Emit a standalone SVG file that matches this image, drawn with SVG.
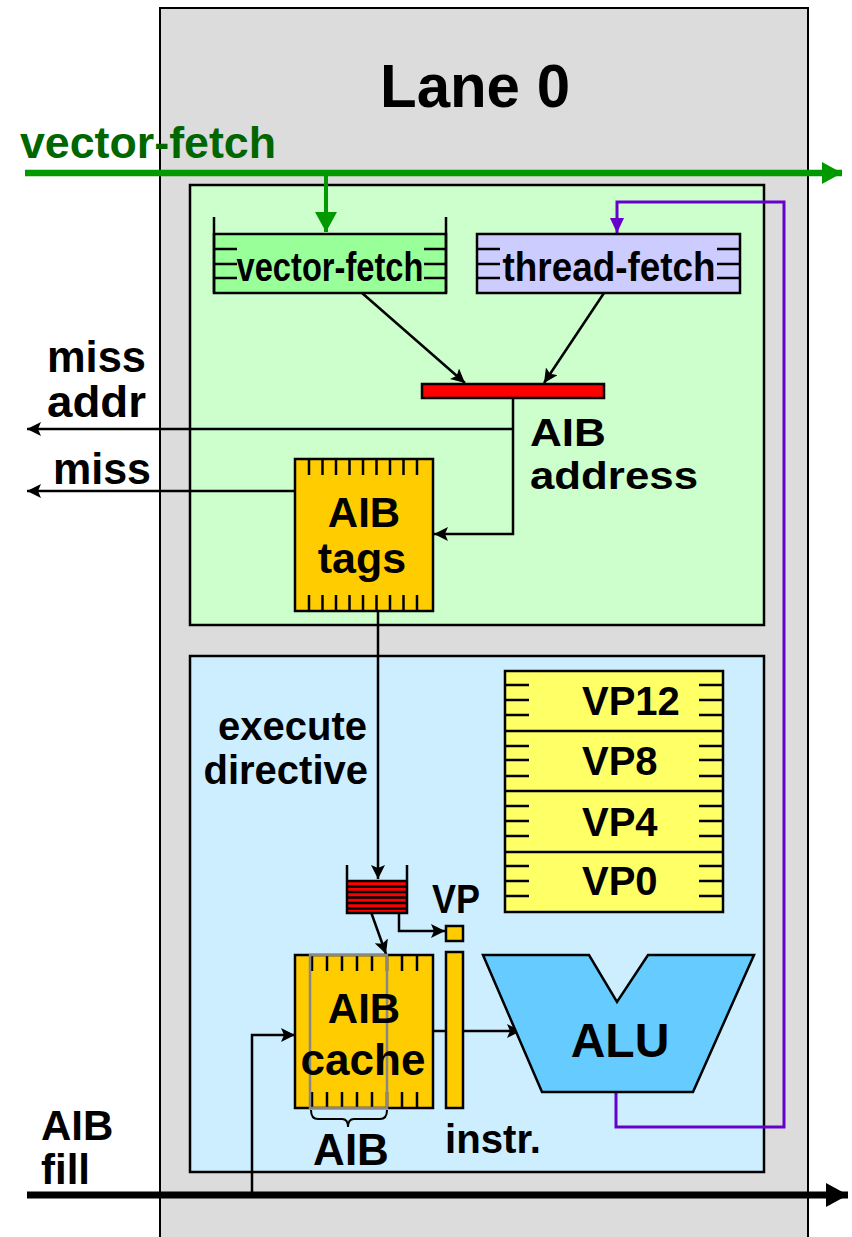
<svg xmlns="http://www.w3.org/2000/svg" width="852" height="1237" viewBox="0 0 852 1237">
  <style>
    text { font-family: "Liberation Sans", Arial, sans-serif; font-weight: bold; fill: #000; }
    .box { stroke: #000; stroke-width: 2.5; }
    .tick { stroke: #000; stroke-width: 2.5; fill: none; }
    .wire { stroke: #000; stroke-width: 2.5; fill: none; }
    .purple { stroke: #6600cc; stroke-width: 3; fill: none; }
    .green { stroke: #009900; fill: none; }
    .yellow { fill: #ffcc00; }
  </style>
  <defs>
    <marker id="ah" markerUnits="userSpaceOnUse" markerWidth="16" markerHeight="14" refX="14" refY="7" orient="auto">
      <path d="M0,0 L14,7 L0,14 L3,7 z" fill="#000"/>
    </marker>
    <marker id="ahPurple" markerUnits="userSpaceOnUse" markerWidth="16" markerHeight="14" refX="15" refY="7" orient="auto">
      <path d="M0,0 L15,7 L0,14 z" fill="#6600cc"/>
    </marker>
    <marker id="ahGreen" markerUnits="userSpaceOnUse" markerWidth="22" markerHeight="24" refX="20" refY="11" orient="auto">
      <path d="M0,0 L20,11 L0,22 z" fill="#009900"/>
    </marker>
    <marker id="ahBig" markerUnits="userSpaceOnUse" markerWidth="24" markerHeight="26" refX="22" refY="12" orient="auto">
      <path d="M0,0 L22,12 L0,24 z" fill="#000"/>
    </marker>
  </defs>

  <!-- lane outline -->
  <g id="lane0">
    <rect x="160" y="8" width="648" height="1250" fill="#dcdcdc" stroke="#000" stroke-width="2"/>
    <text x="475" y="107" font-size="62" text-anchor="middle" textLength="190" lengthAdjust="spacingAndGlyphs">Lane 0</text>
  </g>

  <!-- fetch stage and execution stage panels -->
  <g id="fetch-stage">
    <rect class="box" x="190" y="185" width="574" height="440" fill="#ccffcc"/>
  </g>
  <g id="exec-stage">
    <rect class="box" x="190" y="656" width="574" height="516" fill="#cceeff"/>
  </g>

  <!-- connectors -->
  <g id="connectors">
    <!-- vector-fetch broadcast -->
    <line class="green" x1="25" y1="173" x2="842" y2="173" stroke-width="6.5" marker-end="url(#ahGreen)"/>
    <line class="green" x1="326" y1="173" x2="326" y2="232" stroke-width="4" marker-end="url(#ahGreen)"/>
    <!-- queues into AIB address register -->
    <line class="wire" x1="362" y1="293" x2="465" y2="383" marker-end="url(#ah)"/>
    <line class="wire" x1="604" y1="293" x2="544" y2="383" marker-end="url(#ah)"/>
    <!-- AIB address to tags / miss addr -->
    <polyline class="wire" points="513,398 513,534 434,534" stroke-width="3" marker-end="url(#ah)"/>
    <line class="wire" x1="513" y1="429" x2="27" y2="429" marker-end="url(#ah)"/>
    <line class="wire" x1="295" y1="491" x2="27" y2="491" marker-end="url(#ah)"/>
    <!-- execute directive -->
    <line class="wire" x1="378" y1="611" x2="378" y2="879" marker-end="url(#ah)"/>
    <line class="wire" x1="371" y1="912" x2="386" y2="954" marker-end="url(#ah)"/>
    <polyline class="wire" points="399,913 399,931 445,931" marker-end="url(#ah)"/>
    <!-- AIB cache to ALU -->
    <line class="wire" x1="433" y1="1031" x2="521" y2="1031" marker-end="url(#ah)"/>
    <!-- AIB fill -->
    <line x1="27" y1="1195" x2="848" y2="1195" stroke="#000" stroke-width="7" marker-end="url(#ahBig)"/>
    <polyline class="wire" points="252,1195 252,1035 295,1035" marker-end="url(#ah)"/>
    <!-- thread-fetch feedback from ALU -->
    <polyline class="purple" points="616,1092 616,1127 784,1127 784,202 617,202 617,233" marker-end="url(#ahPurple)"/>
  </g>

  <!-- vector-fetch queue -->
  <g id="vector-fetch-queue">
    <rect x="214" y="234" width="232" height="59" fill="#99ff99" stroke="#000" stroke-width="2.5"/>
    <path class="tick" d="M214,217 V293 M446,217 V293 M214,249 H237 M214,264 H237 M214,278 H237 M424,249 H446 M424,264 H446 M424,278 H446"/>
    <text x="330" y="281" font-size="40" text-anchor="middle" textLength="187" lengthAdjust="spacingAndGlyphs">vector-fetch</text>
  </g>

  <!-- thread-fetch queue -->
  <g id="thread-fetch-queue">
    <rect x="477" y="234" width="263" height="59" fill="#ccccff" stroke="#000" stroke-width="2.5"/>
    <path class="tick" d="M477,249 H500 M477,264 H500 M477,278 H500 M717,249 H740 M717,264 H740 M717,278 H740"/>
    <text x="609" y="281" font-size="40" text-anchor="middle" textLength="213" lengthAdjust="spacingAndGlyphs">thread-fetch</text>
  </g>

  <!-- AIB address register -->
  <g id="aib-address">
    <rect class="box" x="422" y="384" width="182" height="14" fill="#ff0000"/>
    <text x="530" y="446" font-size="38" textLength="76" lengthAdjust="spacingAndGlyphs">AIB</text>
    <text x="530" y="489" font-size="38" textLength="168" lengthAdjust="spacingAndGlyphs">address</text>
  </g>

  <!-- AIB tags -->
  <g id="aib-tags">
    <rect class="box yellow" x="295" y="459" width="138" height="152"/>
    <path class="tick" d="M309,459 V475 M322.5,459 V475 M336,459 V475 M349.5,459 V475 M363,459 V475 M376.5,459 V475 M390,459 V475 M403.5,459 V475 M417,459 V475 M309,595 V611 M322.5,595 V611 M336,595 V611 M349.5,595 V611 M363,595 V611 M376.5,595 V611 M390,595 V611 M403.5,595 V611 M417,595 V611"/>
    <text x="364" y="527" font-size="42" text-anchor="middle">AIB</text>
    <text x="362" y="573" font-size="43" text-anchor="middle">tags</text>
  </g>

  <!-- external labels -->
  <g id="miss-addr">
    <text x="47" y="372" font-size="44" textLength="99" lengthAdjust="spacingAndGlyphs">miss</text>
    <text x="47" y="417" font-size="44" textLength="99" lengthAdjust="spacingAndGlyphs">addr</text>
  </g>
  <g id="miss">
    <text x="53" y="484" font-size="44" textLength="98" lengthAdjust="spacingAndGlyphs">miss</text>
  </g>
  <g id="vector-fetch-label">
    <text x="20" y="158" font-size="45" style="fill:#006600" textLength="256" lengthAdjust="spacingAndGlyphs">vector-fetch</text>
  </g>
  <g id="execute-directive">
    <text x="367" y="740" font-size="40" text-anchor="end">execute</text>
    <text x="368" y="784" font-size="40" text-anchor="end">directive</text>
  </g>

  <!-- VP register file -->
  <g id="vp-regfile">
    <rect class="box" x="505" y="671" width="218" height="241" fill="#ffff66"/>
    <path class="tick" d="M505,731 H723 M505,791 H723 M505,852 H723"/>
    <path class="tick" d="M505,685 H529 M505,700 H529 M505,715 H529 M699,685 H723 M699,700 H723 M699,715 H723
      M505,746 H529 M505,760 H529 M505,776 H529 M699,746 H723 M699,760 H723 M699,776 H723
      M505,806 H529 M505,821 H529 M505,836 H529 M699,806 H723 M699,821 H723 M699,836 H723
      M505,866 H529 M505,881 H529 M505,896 H529 M699,866 H723 M699,881 H723 M699,896 H723"/>
    <text x="582" y="715" font-size="40">VP12</text>
    <text x="582" y="775" font-size="40">VP8</text>
    <text x="582" y="836" font-size="40">VP4</text>
    <text x="582" y="895" font-size="40">VP0</text>
  </g>

  <!-- execute directive queue -->
  <g id="directive-queue">
    <rect x="347" y="881" width="60" height="32" fill="#ff0000"/>
    <path class="tick" stroke-width="2" d="M347,886.5 H407 M347,892 H407 M347,897.5 H407 M347,903 H407 M347,908.5 H407"/>
    <path class="tick" d="M347,865 V913 H407 V865 M347,881 H407"/>
  </g>

  <!-- VP pointer -->
  <g id="vp-pointer">
    <rect class="box yellow" x="446" y="926" width="17" height="15"/>
    <text x="432" y="913" font-size="40" textLength="48" lengthAdjust="spacingAndGlyphs">VP</text>
  </g>

  <!-- instruction register -->
  <g id="instr-reg">
    <rect class="box yellow" x="446" y="952" width="17" height="156"/>
    <text x="445" y="1153" font-size="40" textLength="96" lengthAdjust="spacingAndGlyphs">instr.</text>
  </g>

  <!-- AIB cache -->
  <g id="aib-cache">
    <rect class="box yellow" x="295" y="955" width="138" height="153"/>
    <path class="tick" d="M312,955 V971 M327,955 V971 M342,955 V971 M357,955 V971 M372,955 V971 M387,955 V971 M402,955 V971 M417,955 V971 M312,1092 V1108 M327,1092 V1108 M342,1092 V1108 M357,1092 V1108 M372,1092 V1108 M387,1092 V1108 M402,1092 V1108 M417,1092 V1108"/>
    <rect x="310" y="955" width="77" height="153" fill="none" stroke="#888888" stroke-width="2.5"/>
    <text x="364" y="1023" font-size="42" text-anchor="middle">AIB</text>
    <text x="363" y="1075" font-size="44" text-anchor="middle">cache</text>
    <path d="M311,1110 Q311,1119 318,1119 H342 Q348,1119 348,1127 Q348,1119 354,1119 H380 Q387,1119 387,1110" fill="none" stroke="#000" stroke-width="2"/>
    <text x="351" y="1165" font-size="44" text-anchor="middle">AIB</text>
  </g>

  <!-- ALU -->
  <g id="alu">
    <polygon class="box" points="483,955 589,955 617,1002 648,955 754,955 693,1092 542,1092" fill="#66ccff"/>
    <text x="620" y="1057" font-size="48" text-anchor="middle">ALU</text>
  </g>

  <!-- AIB fill label -->
  <g id="aib-fill">
    <text x="41" y="1140" font-size="42">AIB</text>
    <text x="41" y="1184" font-size="42">fill</text>
  </g>
</svg>
